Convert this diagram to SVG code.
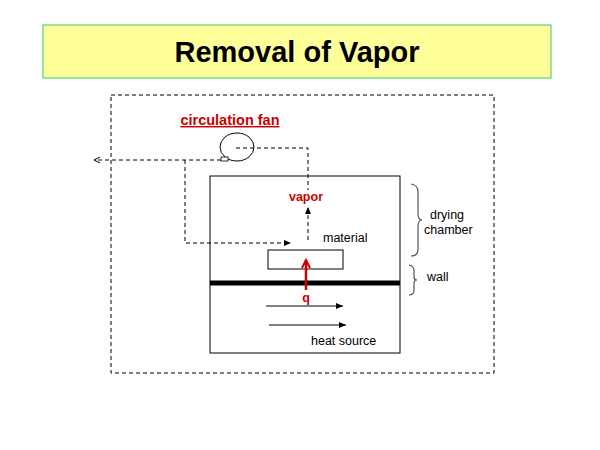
<svg xmlns="http://www.w3.org/2000/svg" width="600" height="450" viewBox="0 0 600 450">
<style>
text{font-family:"Liberation Sans",Arial,sans-serif}
.d{fill:none;stroke:#000;stroke-width:1;stroke-dasharray:4,3}
.s{fill:none;stroke:#000;stroke-width:1}
.lab{font-size:12.5px;fill:#000}
.red{fill:#cc0000;font-weight:bold}
.br{fill:none;stroke:#555;stroke-width:1.2}
</style>
<defs>
<marker id="ah" markerWidth="8" markerHeight="8" refX="7" refY="4" orient="auto" markerUnits="userSpaceOnUse"><path d="M0,1 L7,4 L0,7 Z" fill="#000"/></marker>
<marker id="oh" markerWidth="8" markerHeight="8" refX="7" refY="4" orient="auto" markerUnits="userSpaceOnUse"><path d="M1,1 L7,4 L1,7" fill="none" stroke="#000"/></marker>
<marker id="rh" markerWidth="10" markerHeight="10" refX="8" refY="5" orient="auto" markerUnits="userSpaceOnUse"><path d="M0,1 L8,5 L0,9" fill="none" stroke="#cc0000" stroke-width="2"/></marker>
</defs>
<rect width="600" height="450" fill="#fff"/>
<g id="title"><rect x="43" y="25" width="508" height="53" fill="#ffff99" stroke="#33cc66" stroke-width="1"/><text x="297" y="62" text-anchor="middle" font-size="29" font-weight="bold">Removal of Vapor</text></g>
<g id="enclosure"><rect x="111" y="95" width="383" height="278" class="d"/></g>
<g id="chamber"><rect x="210" y="176" width="190" height="177" class="s"/><line x1="210" y1="283" x2="400" y2="283" stroke="#000" stroke-width="5"/></g>
<g id="material"><rect x="268" y="250" width="75" height="19" class="s"/><text x="323" y="242" class="lab">material</text></g>
<g id="fan"><ellipse cx="237" cy="147" rx="17" ry="14" fill="#fff" stroke="#000"/><rect x="221" y="157" width="7" height="4" fill="#fff" stroke="#000" stroke-width="0.8"/><text x="230" y="125" text-anchor="middle" font-size="14.5" class="red" text-decoration="underline">circulation fan</text></g>
<g id="connectors">
<path class="d" d="M236,148 H308 V190"/>
<path class="d" d="M308,240 V207" marker-end="url(#ah)"/>
<path class="d" d="M221,160 H94" marker-end="url(#oh)"/>
<path class="d" d="M185,160 V243 H291" marker-end="url(#ah)"/>
<line x1="306" y1="290" x2="306" y2="260" stroke="#cc0000" stroke-width="2.5" marker-end="url(#rh)"/>
<line x1="266" y1="306" x2="343" y2="306" class="s" marker-end="url(#ah)"/>
<line x1="269" y1="325" x2="346" y2="325" class="s" marker-end="url(#ah)"/>
</g>
<g id="labels">
<text x="306" y="201" text-anchor="middle" font-size="12.5" class="red">vapor</text>
<text x="306" y="302" text-anchor="middle" font-size="12.5" class="red">q</text>
<text x="311" y="345" class="lab">heat source</text>
</g>
<g id="braces">
<path class="br" d="M411,184 Q418,185 418,192 V213 Q418,220 422,220 Q418,220 418,227 V249 Q418,256 411,256"/>
<text x="430" y="219" class="lab">drying</text><text x="424" y="234" class="lab">chamber</text>
<path class="br" d="M409,265 Q414,266 414,271 V277 Q414,280 417,280 Q414,280 414,283 V290 Q414,295 409,295"/>
<text x="427" y="281" class="lab">wall</text>
</g>
</svg>
